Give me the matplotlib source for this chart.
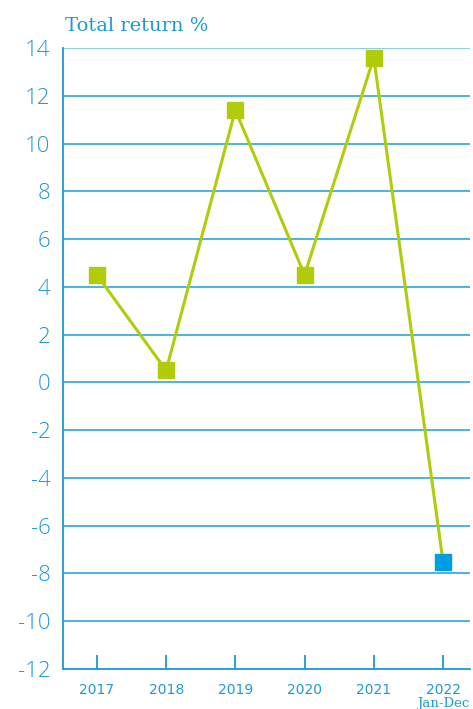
import matplotlib
matplotlib.use("Agg")
import matplotlib.pyplot as plt
import numpy as np

years = ["2017", "2018", "2019", "2020", "2021", "2022"]
returns = [4.5, 0.5, 11.4, 4.5, 13.6, -7.5]
yticks = [-12, -10, -8, -6, -4, -2, 0, 2, 4, 6, 8, 10, 12, 14]
ytick_labels = ["-12", "-10", "-8", "-6", "-4", "-2", "0", "2", "4", "6", "8", "10", "12", "14"]

BLUE = "#1a9ad6"
GRID = "#3aaee0"
GREEN = "#b2cb0a"
LAST = "#009fe3"

fig = plt.figure(figsize=(4.73, 7.09), dpi=100)
ax = fig.add_axes([63/473, 40/709, (470-63)/473, (669-48)/709])

x = np.arange(len(years))
ax.plot(x, returns, color=GREEN, lw=2.2, zorder=3)
ax.plot(x[:-1], returns[:-1], ls="none", marker="s", ms=11.8, color=GREEN, zorder=4)
ax.plot(x[-1:], returns[-1:], ls="none", marker="s", ms=11.8, color=LAST, zorder=4)

ax.set_ylim(-12, 14)
ax.set_xlim(-0.49, 5.39)
ax.set_yticks(yticks)
ax.set_yticklabels(ytick_labels)
for t in yticks:
    if t == -12:
        continue
    ax.axhline(t, color=GRID if t != 14 else "#7ccbef", lw=1.3, zorder=1)

ax.set_xticks(x)
ax.set_xticklabels(years)
ax.tick_params(axis="x", direction="in", length=10, width=1.3, color=BLUE,
               labelcolor=BLUE, labelsize=10, pad=10)
ax.tick_params(axis="y", length=0, labelcolor=BLUE, labelsize=16, pad=9)
for lab in ax.get_yticklabels():
    lab.set_family(["Open Sans", "DejaVu Sans"])
    lab.set_fontweight(300)
for lab in ax.get_xticklabels():
    lab.set_family(["DejaVu Sans"])

for s in ["top", "right"]:
    ax.spines[s].set_visible(False)
for s in ["left", "bottom"]:
    ax.spines[s].set_color(BLUE)
    ax.spines[s].set_linewidth(1.3)

fig.text(443/473, 1 - 703/709, "Jan-Dec", ha="center", va="center",
         color=BLUE, fontsize=9.5, family="DejaVu Serif")

fig.text(65/473, 1 - 26/709, "Total return %", color=BLUE, fontsize=14,
         family="DejaVu Serif", ha="left", va="center")

fig.savefig("out.png", dpi=100)
